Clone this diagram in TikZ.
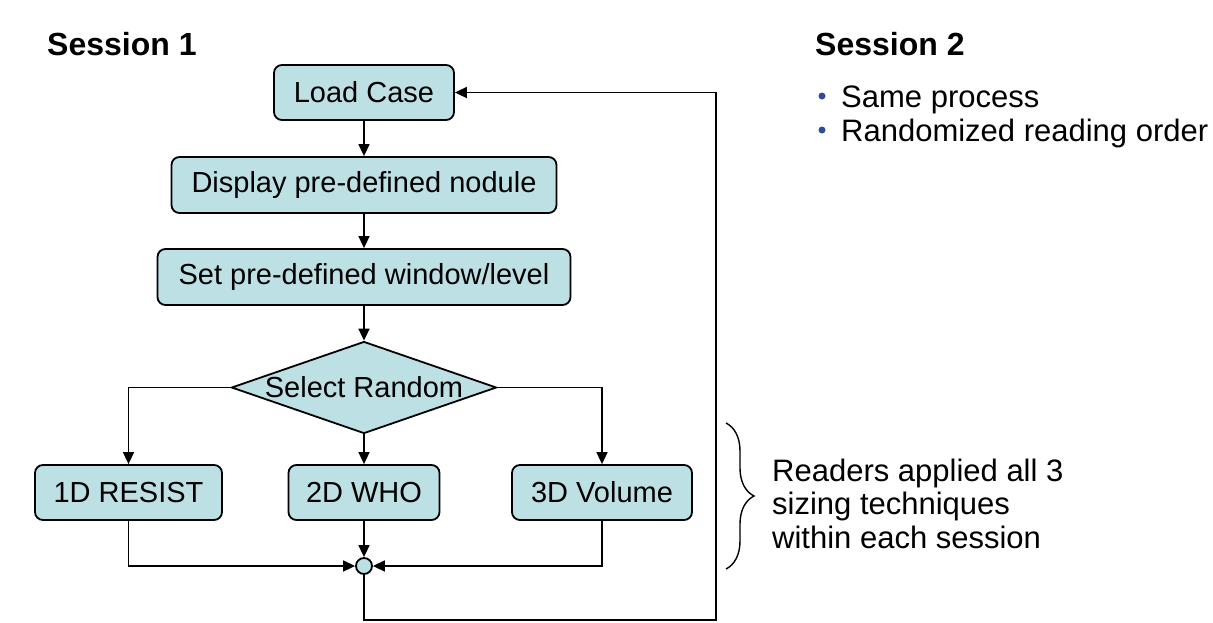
\documentclass[tikz,border=0pt]{standalone}
\usepackage{fontspec}
\setmainfont{Liberation Sans}
\usetikzlibrary{arrows.meta,shapes.geometric,decorations.pathreplacing}
\definecolor{boxfill}{HTML}{BDE0E5}
\definecolor{bulletblue}{HTML}{2F4A9E}
\begin{document}
\begin{tikzpicture}[x=1pt,y=-1pt,
  box/.style={draw=black, line width=1.8pt, fill=boxfill, rounded corners=8pt, inner sep=0pt,
    font=\fontsize{29}{34}\selectfont},
  dia/.style={diamond, aspect=2.88, draw=black, line width=1.8pt, fill=boxfill, inner sep=0pt,
    minimum width=265pt, minimum height=92pt, font=\fontsize{29}{34}\selectfont},
  junc/.style={circle, draw=black, line width=1.8pt, fill=boxfill, minimum size=16pt, inner sep=0pt},
  conn/.style={line width=1.6pt, -{Triangle[length=12pt,width=11pt]}},
  head/.style={font=\fontsize{32}{38}\selectfont\bfseries, anchor=base west, inner sep=0pt},
  txt/.style={font=\fontsize{31}{36}\selectfont, anchor=base west, inner sep=0pt},
  dot/.style={circle, fill=bulletblue, minimum size=7pt, inner sep=0pt},
]
\useasboundingbox (0,0) rectangle (1213,622);

% headings
\node[head] (s1) at (47,55) {Session 1};
\node[head] (s2) at (815,55) {Session 2};

% bullets
\node[dot] (b1) at (822,96) {};
\node[txt] (t1) at (841,107) {Same process};
\node[dot] (b2) at (822,130) {};
\node[txt] (t2) at (841,141) {Randomized reading order};

% flow nodes
\node[box, minimum width=180pt, minimum height=55pt] (load) at (364,92.5) {Load Case};
\node[box, minimum width=385pt, minimum height=56pt] (disp) at (364,185) {Display pre-defined nodule};
\node[box, minimum width=413pt, minimum height=56pt] (set) at (364,277) {Set pre-defined window/level};
\node[dia] (sel) at (364,387.5) {Select Random};
\node[box, minimum width=187pt, minimum height=55pt] (r1) at (128.5,492.5) {1D RESIST};
\node[box, minimum width=151pt, minimum height=55pt] (r2) at (364,492.5) {2D WHO};
\node[box, minimum width=180pt, minimum height=55pt] (r3) at (602,492.5) {3D Volume};
\node[junc] (j) at (364,566) {};
\coordinate (loopbr) at (716,620);

% connectors
\draw[conn] (load) -- (disp);
\draw[conn] (disp) -- (set);
\draw[conn] (set) -- (sel);
\draw[conn] (sel.west) -| (r1.north);
\draw[conn] (sel.south) -- (r2.north);
\draw[conn] (sel.east) -| (r3.north);
\draw[conn] (r1.south) |- (j.west);
\draw[conn] (r2.south) -- (j.north);
\draw[conn] (r3.south) |- (j.east);
\draw[conn] (j.south) |- (loopbr) |- (load.east);

% brace and note
\coordinate (bt) at (726,423);
\coordinate (bb) at (726,569);
\draw[line width=1.4pt, decorate, decoration={brace, amplitude=28pt}] (bt) -- (bb);
\node[txt] (n1) at (772,481) {Readers applied all 3};
\node[txt] (n2) at (772,514.5) {sizing techniques};
\node[txt] (n3) at (772,548) {within each session};
\end{tikzpicture}
\end{document}
